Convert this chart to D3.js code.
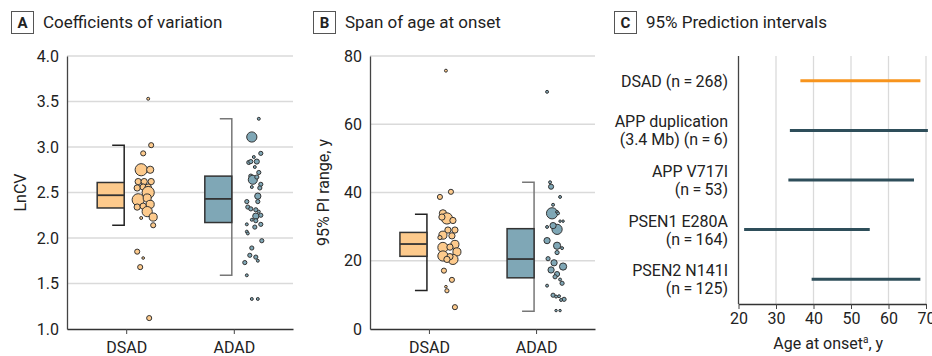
<!DOCTYPE html>
<html>
<head>
<meta charset="utf-8">
<script src="https://cdn.jsdelivr.net/npm/d3@7"></script>
<style>
body { margin: 0; background: #fff; }
svg text { font-family: Roboto, "Liberation Sans", sans-serif; fill: #222; }
</style>
</head>
<body>
<svg id="chart" width="932" height="356"></svg>
<script>
var groups = ['DSAD', 'ADAD'];

// box stats per group: [q1, median, q3, low, high]
var cvBox = [[2.33, 2.47, 2.61, 2.14, 3.02], [2.17, 2.43, 2.68, 1.59, 3.31]];
var spanBox = [[21.3, 24.9, 28.3, 11.3, 33.6], [15.0, 20.5, 29.4, 5.2, 43.0]];

// points: [value, jitter (-1..1), family size]
var cvDsad = [[3.53,0.3,2],[3.02,0.6,6],[2.93,-0.2,6],[2.75,-0.4,34],[2.75,0.5,12],[2.62,-0.7,9],[2.62,-0.1,9],
	[2.62,0.6,9],[2.55,-0.8,9],[2.56,-0.2,9],[2.56,0.3,9],[2.50,0.3,34],[2.42,-0.7,34],[2.44,0.2,15],[2.34,-0.8,9],
	[2.37,0.5,15],[2.35,-0.2,9],[2.29,0.2,24],[2.23,0.8,15],[2.22,-0.4,2],[2.14,0.8,6],[1.85,-0.8,6],[1.78,-0.2,1.6],
	[1.68,-0.5,6],[1.12,0.4,6]];
var cvAdad = [[3.31,0.6,2],[3.11,-0.1,24],[2.93,0.8,4],[2.89,0.1,2],[2.83,-0.4,4],[2.84,-0.2,4],[2.84,0.4,6],
	[2.78,0.2,2],[2.72,0.6,4],[2.68,-0.2,4],[2.64,0,19],[2.67,0.4,4],[2.59,0.8,4],[2.55,0.7,4],[2.46,0.5,9],
	[2.56,-0.1,2],[2.40,-0.6,4],[2.40,0.5,4],[2.34,-0.5,4],[2.32,-0.2,4],[2.31,0.3,4],[2.29,0.6,2],[2.24,0.3,9],
	[2.25,0.8,4],[2.20,-0.1,2],[2.19,0.3,4],[2.15,-0.6,2],[2.15,0.8,4],[2.12,0.2,4],[2.07,-0.6,2],[2.05,-0.5,2],
	[1.97,0.9,4],[1.89,-0.1,4],[1.73,-0.8,4],[1.81,-0.3,4],[1.79,0.3,4],[1.75,0.5,2],[1.59,-0.6,2],[1.33,-0.1,2],
	[1.33,0.5,2]];
var spanDsad = [[75.7,-0.2,2],[40.2,0.3,6],[38.7,-0.8,6],[33.9,-0.5,12],[32.4,-0.1,29],[32.8,-0.6,9],[31.8,0.5,9],
	[29.0,0,9],[29.0,0.7,9],[27.5,-0.5,15],[27.3,0.4,9],[26.8,-0.8,4],[23.9,-0.5,24],[24.8,0.7,15],[24.0,0.2,9],
	[22.6,0.9,15],[21.4,-0.5,24],[20.4,0.5,24],[21.2,0.2,9],[20.4,-0.1,9],[17.1,-0.4,6],[14.4,0.4,6],[12.4,-0.2,1.6],
	[11.2,-0.1,4],[6.4,0.7,6]];
var spanAdad = [[69.5,-0.8,2],[43.0,-0.5,2],[41.7,-0.4,6],[38.7,0.5,2],[36.4,-0.2,2],[33.9,-0.3,29],[34.3,0.2,2],
	[33.9,0.3,2],[31.6,0.5,1.4],[31.6,0.8,1.4],[29.2,0.2,24],[30.3,-0.2,9],[29.9,-0.8,2],[25.9,-0.8,9],[24.4,0.2,12],
	[23.7,0.7,2],[22.4,0.2,4],[20.6,-0.7,4],[19.4,-0.1,9],[18.3,0.8,12],[17.3,-0.4,9],[16.1,0.2,6],[15.3,0,4],
	[14.5,0.5,2],[13.4,0.7,4],[12.7,-0.8,2],[9.9,-0.2,4],[9.5,0.1,2],[9.6,0.4,2],[8.7,0.9,4],[8.5,0.6,2],
	[5.4,0.1,1.4],[5.4,0.5,1.4]];

var cvTicks = [1.0, 1.5, 2.0, 2.5, 3.0, 3.5, 4.0];
var spanTicks = [0, 20, 40, 60, 80];

// panel C
var piLabels = [['DSAD (n\u2009=\u2009268)'], ['APP duplication', '(3.4 Mb) (n\u2009=\u20096)'], ['APP V717I', '(n\u2009=\u200953)'],
	['PSEN1 E280A', '(n\u2009=\u2009164)'], ['PSEN2 N141I', '(n\u2009=\u2009125)']];
var piLow = [36.5, 33.7, 33.3, 21.5, 39.5];
var piHigh = [68.5, 70.5, 66.8, 55.0, 68.5];
var ageTicks = [20, 30, 40, 50, 60, 70];

var fills = ['#FDCA8C', '#7FA7B6'];
var stroke = '#333';
var gridColor = '#dadada';

var svg = d3.select('#chart');
var yTop = 56, yBottom = 329;
var size = d3.scaleSqrt().domain([0, 40]).range([0, 6.6]);

function header(x, letter, title) {
	svg.append('rect')
		.attr('x', x + 0.5).attr('y', 11.5)
		.attr('width', 22).attr('height', 22)
		.attr('fill', '#fff').attr('stroke', '#555');
	svg.append('text')
		.attr('x', x + 11.5).attr('y', 28)
		.attr('text-anchor', 'middle')
		.style('font-weight', 'bold').style('font-size', '15px')
		.text(letter);
	svg.append('text')
		.attr('x', x + 32).attr('y', 28)
		.style('font-size', '17px')
		.text(title);
}

function boxPanel(left, right, domain, ticks, fmt, yLabel, boxes, points) {
	var y = d3.scaleLinear().domain(domain).range([yBottom, yTop]);
	var x = d3.scalePoint().domain(groups).range([left, right]).padding(0.55);
	var jit = d3.scaleLinear().domain([-1, 1]).range([-10, 10]);

	svg.append('g').selectAll('line')
		.data(ticks.slice(1))
		.enter().append('line')
		.attr('x1', left).attr('x2', right)
		.attr('y1', function(d) { return y(d); })
		.attr('y2', function(d) { return y(d); })
		.attr('stroke', gridColor).attr('stroke-width', 1.3);

	var yAxis = svg.append('g')
		.attr('transform', 'translate(' + left + ',0)')
		.call(d3.axisLeft(y).tickValues(ticks).tickFormat(fmt).tickSize(0).tickSizeOuter(0).tickPadding(8));
	yAxis.select('.domain').attr('stroke', '#444').attr('stroke-width', 1.3);
	yAxis.selectAll('text').style('font-size', '16px').attr('fill', '#222');

	var xAxis = svg.append('g')
		.attr('transform', 'translate(0,' + yBottom + ')')
		.call(d3.axisBottom(x).tickSize(5).tickPadding(8).tickSizeOuter(0));
	xAxis.select('.domain').attr('stroke', '#333').attr('stroke-width', 1.5);
	xAxis.selectAll('.tick line').attr('stroke', '#444');
	xAxis.selectAll('text').style('font-size', '16px').attr('fill', '#222');

	svg.append('text')
		.attr('transform', 'translate(' + (left - 41) + ',' + ((yTop + yBottom) / 2) + ') rotate(-90)')
		.attr('text-anchor', 'middle')
		.style('font-size', '16px')
		.text(yLabel);

	groups.forEach(function(g, i) {
		var cx = x(g);
		var b = boxes[i];
		var bracket = i === 0 ? '#222' : '#777';
		svg.append('path')
			.attr('d', 'M' + (cx - 14) + ',' + y(b[4]) + 'H' + (cx - 2) + 'V' + y(b[3]) + 'H' + (cx - 14))
			.attr('fill', 'none').attr('stroke', bracket).attr('stroke-width', 1.5);
		svg.append('rect')
			.attr('x', cx - 29).attr('width', 27)
			.attr('y', y(b[2])).attr('height', y(b[0]) - y(b[2]))
			.attr('fill', fills[i]).attr('stroke', stroke).attr('stroke-width', 1.5);
		svg.append('line')
			.attr('x1', cx - 29).attr('x2', cx - 2)
			.attr('y1', y(b[1])).attr('y2', y(b[1]))
			.attr('stroke', stroke).attr('stroke-width', 1.8);

		svg.append('g').selectAll('circle')
			.data(points[i])
			.enter().append('circle')
			.attr('cx', function(d) { return cx + 19 + jit(d[1]); })
			.attr('cy', function(d) { return y(d[0]); })
			.attr('r', function(d) { return size(d[2]); })
			.attr('fill', fills[i])
			.attr('stroke', stroke).attr('stroke-width', 1);
	});
}

header(11, 'A', 'Coefficients of variation');
boxPanel(67, 293, [1, 4], cvTicks, d3.format('.1f'), 'LnCV', [cvBox[0], cvBox[1]], [cvDsad, cvAdad]);

header(313, 'B', 'Span of age at onset');
boxPanel(370, 595, [0, 80], spanTicks, d3.format('d'), '95% PI range, y', [spanBox[0], spanBox[1]], [spanDsad, spanAdad]);

// panel C
header(614, 'C', '95% Prediction intervals');
var cLeft = 738.5, cBottom = 304;
var xAge = d3.scaleLinear().domain([20, 70]).range([cLeft, 926]);
var yRow = d3.scaleBand().domain(d3.range(piLabels.length)).range([yTop, cBottom]);

svg.append('g').selectAll('line')
	.data(ageTicks.slice(1))
	.enter().append('line')
	.attr('x1', function(d) { return xAge(d); })
	.attr('x2', function(d) { return xAge(d); })
	.attr('y1', yTop).attr('y2', cBottom)
	.attr('stroke', gridColor).attr('stroke-width', 1.3);

svg.append('line')
	.attr('x1', cLeft).attr('x2', cLeft)
	.attr('y1', yTop).attr('y2', cBottom)
	.attr('stroke', '#444').attr('stroke-width', 1.3);

var ageAxis = svg.append('g')
	.attr('transform', 'translate(0,' + cBottom + ')')
	.call(d3.axisBottom(xAge).tickValues(ageTicks).tickSize(5).tickPadding(4).tickSizeOuter(0));
ageAxis.select('.domain').attr('stroke', '#333').attr('stroke-width', 1.5);
ageAxis.selectAll('.tick line').attr('stroke', '#444');
ageAxis.selectAll('text').style('font-size', '16px').attr('fill', '#222');

var ageTitle = svg.append('text')
	.attr('x', (cLeft + 926) / 2 - 4).attr('y', 349)
	.attr('text-anchor', 'middle')
	.style('font-size', '16px');
ageTitle.append('tspan').text('Age at onset');
ageTitle.append('tspan').attr('dy', -6).style('font-size', '10px').text('a');
ageTitle.append('tspan').attr('dy', 6).text(', y');

piLabels.forEach(function(lines, i) {
	var cy = yRow(i) + yRow.bandwidth() / 2;
	var t = svg.append('text')
		.attr('text-anchor', 'end')
		.style('font-size', '16px');
	lines.forEach(function(s, j) {
		t.append('tspan')
			.attr('x', 728)
			.attr('y', cy + 6 + (j - (lines.length - 1) / 2) * 18)
			.text(s);
	});
	svg.append('line')
		.attr('x1', xAge(piLow[i])).attr('x2', xAge(piHigh[i]))
		.attr('y1', cy).attr('y2', cy)
		.attr('stroke', i === 0 ? '#F7941D' : '#2E4E5A')
		.attr('stroke-width', 3);
});
</script>
</body>
</html>
